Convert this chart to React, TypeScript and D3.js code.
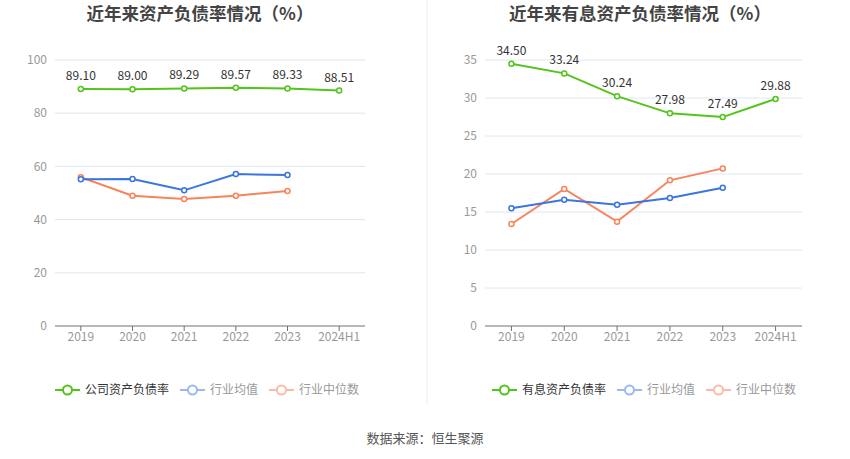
import React from 'react';
import * as d3 from 'd3';

const years = ['2019', '2020', '2021', '2022', '2023', '2024H1'];

// 左图：资产负债率
const companyDebt = [89.1, 89.0, 89.29, 89.57, 89.33, 88.51];
const industryAvg = [55.15, 55.26, 51.0, 57.1, 56.8];
const industryMedian = [55.9, 49.0, 47.7, 49.0, 50.75];
const leftTicks = [0, 20, 40, 60, 80, 100];

// 右图：有息资产负债率
const interestDebt = [34.5, 33.24, 30.24, 27.98, 27.49, 29.88];
const interestAvg = [15.49, 16.6, 15.96, 16.84, 18.2];
const interestMedian = [13.42, 18.03, 13.73, 19.17, 20.74];
const rightTicks = [0, 5, 10, 15, 20, 25, 30, 35];

const GREEN = '#52c41a';
const BLUE = '#3a75e0';
const ORANGE = '#f7845a';
const FONT = '"Noto Sans CJK SC", "Noto Sans", sans-serif';

interface PanelProps {
  title: string;
  titleX: number;
  x0: number;
  x1: number;
  legendX: number;
  ticks: number[];
  maxY: number;
  main: number[];
  avg: number[];
  median: number[];
  mainName: string;
}

const top = 60;
const bottom = 326;

const Panel: React.FC<PanelProps> = ({ title, titleX, x0, x1, legendX, ticks, maxY, main, avg, median, mainName }) => {
  const x = d3.scaleBand().domain(years).range([x0, x1]);
  const y = d3.scaleLinear().domain([0, maxY]).range([bottom, top]);
  const cx = (i: number) => (x(years[i]) as number) + x.bandwidth() / 2;
  const line = d3.line<number>().x((_, i) => cx(i)).y(d => y(d));

  const series = [
    { data: median, color: ORANGE },
    { data: avg, color: BLUE },
    { data: main, color: GREEN },
  ];

  const legend = [
    { name: mainName, color: GREEN, text: '#333', at: legendX },
    { name: '行业均值', color: '#9bb9f0', text: '#999', at: legendX + 125 },
    { name: '行业中位数', color: '#f9bca5', text: '#999', at: legendX + 214 },
  ];

  return (
    <g>
      <text x={titleX} y={20} textAnchor="middle" fontSize={17.5} fontWeight="bold" fill="#444">{title}</text>
      {ticks.map(t => (
        <g key={t}>
          {t > 0 && <line x1={x0} x2={x1} y1={y(t)} y2={y(t)} stroke="#e0e6f1" />}
          <text x={x0 - 8} y={y(t)} dy="0.35em" textAnchor="end" fontSize={12} fill="#999">{t}</text>
        </g>
      ))}
      <line x1={x0} x2={x1} y1={bottom} y2={bottom} stroke="#6e7079" />
      {years.map((yr, i) => (
        <g key={yr}>
          <line x1={cx(i)} x2={cx(i)} y1={bottom} y2={bottom + 5} stroke="#6e7079" />
          <text x={cx(i)} y={bottom + 15} textAnchor="middle" fontSize={12} fill="#999">{yr}</text>
        </g>
      ))}
      {series.map((s, k) => (
        <g key={k}>
          <path d={line(s.data) || ''} fill="none" stroke={s.color} strokeWidth={2} />
          {s.data.map((v, i) => (
            <circle key={i} cx={cx(i)} cy={y(v)} r={2.5} fill="#fff" stroke={s.color} strokeWidth={1.5} />
          ))}
        </g>
      ))}
      {main.map((v, i) => (
        <text key={i} x={cx(i)} y={y(v) - 9} textAnchor="middle" fontSize={12} fill="#333">{v.toFixed(2)}</text>
      ))}
      {legend.map(l => (
        <g key={l.name}>
          <line x1={l.at} x2={l.at + 25} y1={390} y2={390} stroke={l.color} strokeWidth={2} />
          <circle cx={l.at + 12.5} cy={390} r={4.5} fill="#fff" stroke={l.color} strokeWidth={2} />
          <text x={l.at + 30} y={390} dy="0.35em" fontSize={12} fill={l.text}>{l.name}</text>
        </g>
      ))}
    </g>
  );
};

export default function App() {
  return (
    <svg width={850} height={459} style={{ position: 'absolute', left: 0, top: 0, fontFamily: FONT }}>
      <rect width={850} height={459} fill="#fff" />
      <line x1={427} x2={427} y1={0} y2={405} stroke="#eee" />
      <Panel title="近年来资产负债率情况（%）" titleX={200} x0={55} x1={365} legendX={55} ticks={leftTicks} maxY={100}
        main={companyDebt} avg={industryAvg} median={industryMedian} mainName="公司资产负债率" />
      <Panel title="近年来有息资产负债率情况（%）" titleX={640} x0={485} x1={802} legendX={492} ticks={rightTicks} maxY={35}
        main={interestDebt} avg={interestAvg} median={interestMedian} mainName="有息资产负债率" />
      <text x={425} y={438} dy="0.35em" textAnchor="middle" fontSize={13} fill="#555">数据来源：恒生聚源</text>
    </svg>
  );
}
